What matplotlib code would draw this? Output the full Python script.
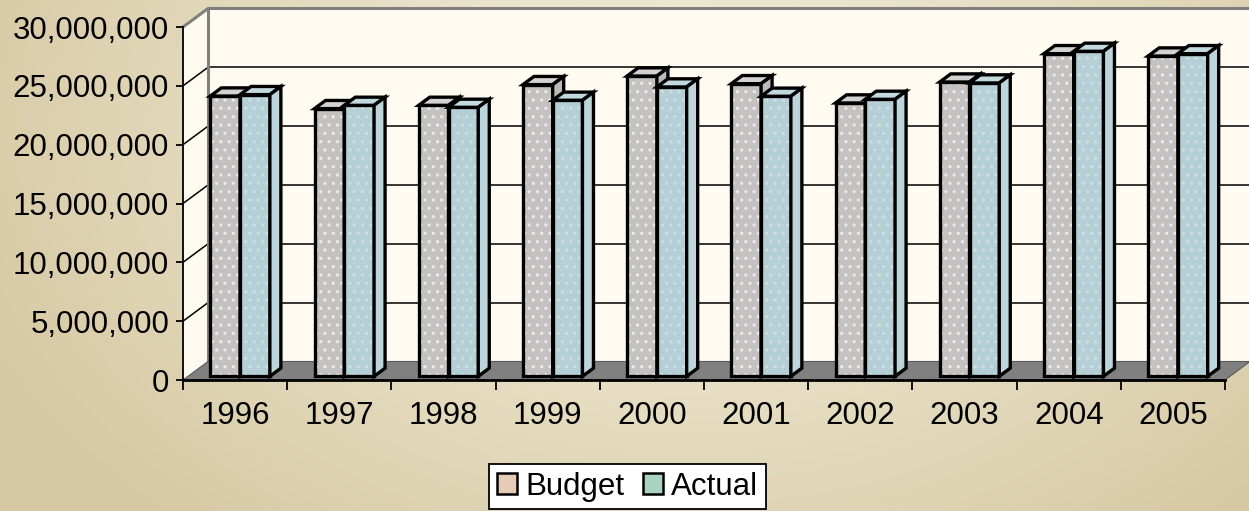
import numpy as np
import matplotlib
matplotlib.use("Agg")
import matplotlib.pyplot as plt
from matplotlib.patches import Polygon, Patch
from matplotlib.ticker import FuncFormatter, FixedLocator

plt.rcParams['font.family'] = ['Liberation Sans', 'DejaVu Sans']
plt.rcParams['hatch.linewidth'] = 1.2

# ---- data ----
years = ["1996", "1997", "1998", "1999", "2000", "2001", "2002", "2003", "2004", "2005"]
budget = [23.82e6, 22.75e6, 23.03e6, 24.79e6, 25.52e6, 24.87e6, 23.23e6, 25.01e6, 27.42e6, 27.22e6]
actual = [23.94e6, 23.03e6, 22.86e6, 23.46e6, 24.59e6, 23.80e6, 23.54e6, 24.93e6, 27.62e6, 27.42e6]
series_names = ["Budget", "Actual"]
y_ticks = [0, 5e6, 10e6, 15e6, 20e6, 25e6, 30e6]

W, H = 1249, 511
fig = plt.figure(figsize=(W / 100, H / 100), dpi=100)

# ---- background gradient ----
bg = fig.add_axes([0, 0, 1, 1], zorder=-10)
yy, xx = np.mgrid[0:H, 0:W]
t = np.sqrt(((xx - 0.55 * W) / (0.62 * W)) ** 2 + ((yy - 0.25 * H) / (1.05 * H)) ** 2)
t = np.clip(t, 0, 1) ** 1.3
light = np.array([241, 236, 217]) / 255
dark = np.array([214, 200, 162]) / 255
img = light[None, None, :] * (1 - t[..., None]) + dark[None, None, :] * t[..., None]
bg.imshow(img, aspect='auto', extent=[0, W, H, 0])
bg.axis('off')

# ---- main axes = front plane ----
x0, x1, y_zero, y_top = 183, 1225, 380, 27
ax = fig.add_axes([x0 / W, (H - y_zero) / H, (x1 - x0) / W, (y_zero - y_top) / H])
ax.set_xlim(0, 10)
ax.set_ylim(0, 30e6)
ax.patch.set_alpha(0)

px_per_cat = (x1 - x0) / 10
px_per_val = (y_zero - y_top) / 30e6
DX = 25 / px_per_cat
DY = 18.5 / px_per_val

def P(x, v, d):
    return (x + d * DX, v + d * DY)

wall_col = '#fffbf0'
grey_edge = '#808080'

# left wall
ax.add_patch(Polygon([P(0, 0, 0), P(0, 30e6, 0), P(0, 30e6, 1), P(0, 0, 1)],
                     closed=True, facecolor=wall_col, edgecolor='none', clip_on=False, zorder=1))
# back wall
ax.add_patch(Polygon([P(0, 0, 1), P(10, 0, 1), P(10, 30e6, 1), P(0, 30e6, 1)],
                     closed=True, facecolor=wall_col, edgecolor='none', clip_on=False, zorder=1))
# gridlines
for v in y_ticks[1:-1]:
    ax.plot([P(0, v, 1)[0], P(10, v, 1)[0]], [P(0, v, 1)[1]] * 2, color='black', lw=1.1,
            clip_on=False, zorder=2)
    ax.plot([P(0, v, 0)[0], P(0, v, 1)[0]], [P(0, v, 0)[1], P(0, v, 1)[1]], color='black',
            lw=1.1, clip_on=False, zorder=2)
# wall borders (grey)
ax.plot([P(0, 30e6, 0)[0], P(0, 30e6, 1)[0], P(10, 30e6, 1)[0]],
        [P(0, 30e6, 0)[1], P(0, 30e6, 1)[1], P(10, 30e6, 1)[1]], color=grey_edge, lw=2.2,
        clip_on=False, zorder=2, solid_capstyle='butt')
ax.plot([P(0, 0, 1)[0], P(0, 30e6, 1)[0]], [P(0, 0, 1)[1], P(0, 30e6, 1)[1]], color=grey_edge,
        lw=2.2, clip_on=False, zorder=2)
# floor
ax.add_patch(Polygon([P(0, 0, 0), P(10, 0, 0), P(10, 0, 1), P(0, 0, 1)], closed=True,
                     facecolor='#808080', edgecolor='#5a5a5a', lw=0.8, clip_on=False, zorder=3))

# ---- bars ----
bw = 1 / 3.5
gap = (1 - 2 * bw) / 2
d0, d1 = 0.2, 0.64
front_cols = ['#c4c2c0', '#b5cfd6']
top_cols = ['#d4d2d0', '#c2d9de']
side_cols = ['#bdbbb9', '#bcd5db']
hatch_cols = ['#f2f2f2', '#cfe2e6']
for i in range(len(years)):
    for s, vals in enumerate([budget, actual]):
        xl = i + gap + s * bw
        xr = xl + bw
        v = vals[i]
        fl, fb = P(xl, 0, d0)
        ax.bar(fl, v, width=bw, bottom=fb, align='edge', color=front_cols[s],
               edgecolor='none', lw=0, clip_on=False, zorder=5)
        ax.bar(fl, v, width=bw, bottom=fb, align='edge', facecolor='none',
               edgecolor=hatch_cols[s], hatch='..', lw=0, alpha=0.75, clip_on=False, zorder=5)
        ax.bar(fl, v, width=bw, bottom=fb, align='edge', facecolor='none',
               edgecolor='black', lw=2.4, clip_on=False, zorder=5)
        top = [P(xl, v, d0), P(xr, v, d0), P(xr, v, d1), P(xl, v, d1)]
        ax.add_patch(Polygon(top, closed=True, facecolor=top_cols[s], edgecolor='black',
                             lw=2.4, clip_on=False, zorder=5, joinstyle='miter'))
        side = [P(xr, 0, d0), P(xr, v, d0), P(xr, v, d1), P(xr, 0, d1)]
        ax.add_patch(Polygon(side, closed=True, facecolor=side_cols[s], edgecolor='black',
                             lw=2.4, clip_on=False, zorder=5, joinstyle='miter'))

# ---- axes styling ----
for sp in ['top', 'right']:
    ax.spines[sp].set_visible(False)
ax.spines['left'].set_linewidth(1.3)
ax.spines['bottom'].set_linewidth(2.0)
ax.spines['left'].set_zorder(6)
ax.spines['bottom'].set_zorder(6)

ax.yaxis.set_major_locator(FixedLocator(y_ticks))
ax.yaxis.set_major_formatter(FuncFormatter(lambda v, p: f"{int(round(v)):,}"))
ax.tick_params(axis='y', direction='out', length=5, width=1.3, labelsize=22.5, pad=5)

ax.set_xticks(np.arange(len(years)) + 0.5)
ax.set_xticklabels(years)
ax.set_xticks(np.arange(0, 11), minor=True)
ax.tick_params(axis='x', which='major', length=0, labelsize=22.5, pad=15)
ax.tick_params(axis='x', which='minor', direction='out', length=7, width=1.3)

# ---- legend ----
handles = [Patch(facecolor='#e6cbb8', edgecolor='black', lw=1.8),
           Patch(facecolor='#a9d3c3', edgecolor='black', lw=1.8)]
leg = fig.legend(handles, series_names, loc='center',
                 bbox_to_anchor=(627.5 / W, 1 - 486.5 / H), ncol=2, fontsize=22.5,
                 frameon=True, fancybox=False, edgecolor='black', framealpha=1,
                 handlelength=0.65, handleheight=0.65, handletextpad=0.25,
                 columnspacing=0.6, borderpad=0.25, borderaxespad=0)
leg.get_frame().set_linewidth(1.3)

fig.savefig('out.png', dpi=100)
